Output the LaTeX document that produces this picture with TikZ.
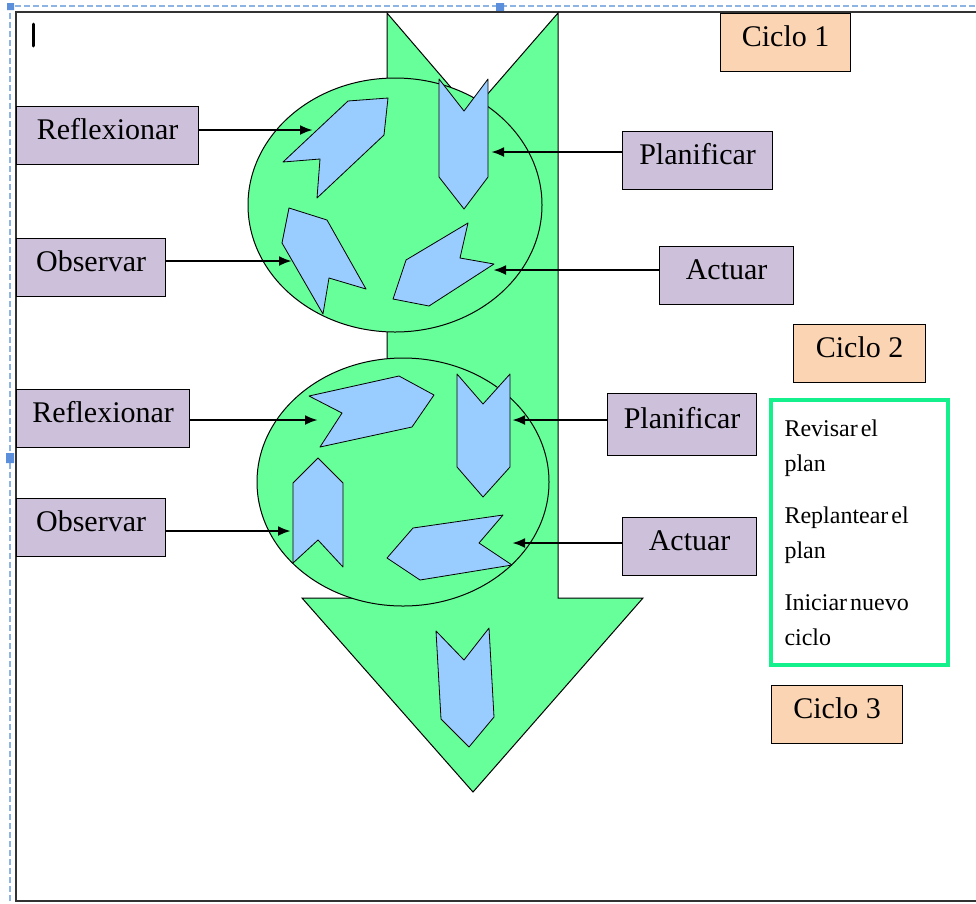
\documentclass[tikz,border=0pt]{standalone}
\usepackage{fontspec}
\setmainfont{Liberation Serif}
\usetikzlibrary{arrows.meta}
\definecolor{flowgreen}{RGB}{102,255,153}
\definecolor{chevblue}{RGB}{153,204,255}
\definecolor{stepviolet}{RGB}{204,192,218}
\definecolor{cyclepeach}{RGB}{251,212,180}
\definecolor{notegreen}{RGB}{20,240,140}
\definecolor{selblue}{RGB}{141,180,226}
\definecolor{handleblue}{RGB}{91,143,219}

\begin{document}
\begin{tikzpicture}[x=1pt, y=-1pt]
    \tikzstyle{every node}=[font=\fontsize{30}{34}\selectfont]
    \tikzstyle{phase}=[draw, line width=1.2pt, fill=stepviolet, anchor=north west, inner xsep=12pt, inner ysep=9pt, text height=24pt, text depth=16pt]
    \tikzstyle{cycle}=[phase, fill=cyclepeach]
    \tikzstyle{chev}=[draw, fill=chevblue, line width=0.8pt, line join=round]
    \tikzstyle{conn}=[line width=2.8pt, -{Latex[length=13pt, width=10pt]}]
    \useasboundingbox (0,0) rectangle (976,903);
    \clip (0,0) rectangle (976,903);
    \draw[selblue, line width=1.5pt, dash pattern=on 6pt off 3pt] (10,910) -- (10,6) -- (980,6);
    \fill[handleblue] (7,3) rectangle (14,10) (496,3) rectangle (504,11) (6,453) rectangle (14,463);
    \draw[black!80, line width=2pt] (980,12) -- (16,12) -- (16,901) -- (980,901);
    \draw[line width=3pt, line cap=round] (33,24) -- (33,46);
    \filldraw[fill=flowgreen, line width=1pt] (387,13) -- (472,112) -- (558,13) -- (558,598) -- (643,598) -- (473,792) -- (302,598) -- (387,598) -- cycle;
    \filldraw[fill=flowgreen, line width=1pt] (395,205) ellipse [x radius=147, y radius=127];
    \filldraw[fill=flowgreen, line width=1pt] (403,482) ellipse [x radius=146, y radius=124];
    \filldraw[chev] (283,162) -- (348,101) -- (388,98) -- (384,135) -- (317,198) -- (320,159) -- cycle;
    \filldraw[chev] (439,79) -- (464,111) -- (488,79) -- (488,177) -- (464,209) -- (439,177) -- cycle;
    \filldraw[chev] (289,208) -- (327,220) -- (366,289) -- (329,278) -- (323,314) -- (282,243) -- cycle;
    \filldraw[chev] (468,223) -- (460,258) -- (494,264) -- (429,306) -- (393,299) -- (406,260) -- cycle;
    \filldraw[chev] (309,396) -- (399,376) -- (434,395) -- (412,427) -- (320,447) -- (342,413) -- cycle;
    \filldraw[chev] (457,374) -- (483,404) -- (510,374) -- (510,467) -- (483,497) -- (457,467) -- cycle;
    \filldraw[chev] (293,483) -- (318,458) -- (343,483) -- (343,567) -- (318,540) -- (293,563) -- cycle;
    \filldraw[chev] (503,515) -- (479,543) -- (512,565) -- (420,580) -- (387,558) -- (413,528) -- cycle;
    \filldraw[chev] (436,631) -- (464,660) -- (489,628) -- (494,717) -- (469,747) -- (441,719) -- cycle;
    \node[phase, minimum width=182pt] (reflexA) at (16,106) {Reflexionar};
    \node[phase, minimum width=149pt] (observA) at (16,238) {Observar};
    \node[phase, minimum width=150pt] (planA) at (622,131) {Planificar};
    \node[phase, minimum width=134pt] (actA) at (659,246) {Actuar};
    \node[phase, minimum width=173pt] (reflexB) at (16,389) {Reflexionar};
    \node[phase, minimum width=149pt] (observB) at (16,498) {Observar};
    \node[phase, minimum width=149pt, minimum height=62pt] (planB) at (607,393) {Planificar};
    \node[phase, minimum width=134pt] (actB) at (622,517) {Actuar};
    \node[cycle, minimum width=130pt] (cicloA) at (720,13) {Ciclo 1};
    \node[cycle, minimum width=132pt] (cicloB) at (793,324) {Ciclo 2};
    \node[cycle, minimum width=131pt] (cicloC) at (771,685) {Ciclo 3};
    \node[draw=notegreen, line width=4pt, anchor=north west, minimum width=177pt, minimum height=265pt, text width=150pt, inner xsep=12pt, align=left, font=\fontsize{24}{35}\selectfont] (tasks) at (769,398) {\spaceskip=3pt\relax Revisar el\\plan\\[17pt]Replantear el\\plan\\[17pt]Iniciar nuevo\\ciclo};
    \coordinate (toReflexA) at (313,130);
    \coordinate (toObservA) at (292,261);
    \coordinate (toPlanA) at (491,152);
    \coordinate (toActA) at (493,270);
    \coordinate (toReflexB) at (318,420);
    \coordinate (toObservB) at (291,531);
    \coordinate (toPlanB) at (512,420);
    \coordinate (toActB) at (512,543);
    \draw[conn] (toReflexA -| reflexA.east) -- (toReflexA);
    \draw[conn] (toObservA -| observA.east) -- (toObservA);
    \draw[conn] (toPlanA -| planA.west) -- (toPlanA);
    \draw[conn] (toActA -| actA.west) -- (toActA);
    \draw[conn] (toReflexB -| reflexB.east) -- (toReflexB);
    \draw[conn] (toObservB -| observB.east) -- (toObservB);
    \draw[conn] (toPlanB -| planB.west) -- (toPlanB);
    \draw[conn] (toActB -| actB.west) -- (toActB);
\end{tikzpicture}
\end{document}
